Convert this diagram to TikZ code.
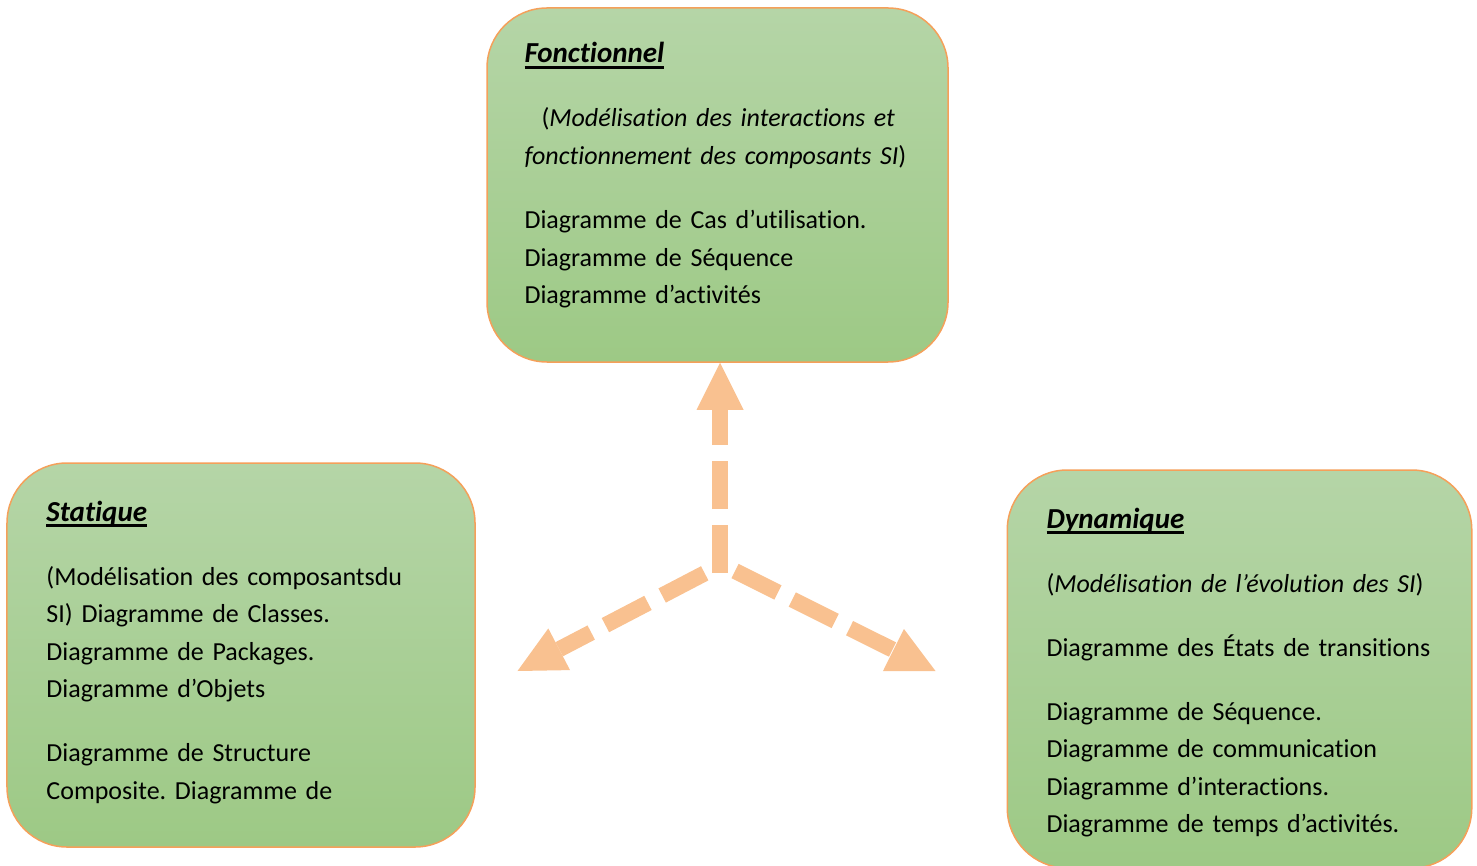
\documentclass[tikz,border=0pt]{standalone}
\usepackage{fontspec}
\setmainfont{Carlito}[Ligatures=NoCommon]
\usepackage{tikz}
\usetikzlibrary{positioning,arrows.meta}
\definecolor{paneltop}{RGB}{181,213,167}
\definecolor{panelbottom}{RGB}{157,201,133}
\definecolor{panelline}{RGB}{245,160,90}
\definecolor{arrowpeach}{RGB}{249,193,144}
\frenchspacing
\newcommand{\paneltitle}[1]{{\fontsize{11.6}{15}\selectfont\bfseries\itshape
    \setbox0\hbox{#1}\rlap{\rule[-2.3pt]{\wd0}{1pt}}\box0}}
\tikzset{
    panel/.style={
        draw=panelline,
        line width=0.6pt,
        rounded corners=24pt,
        top color=paneltop,
        bottom color=panelbottom,
        inner sep=0pt
    },
    paneltext/.style={
        anchor=base west,
        inner sep=0pt,
        align=left,
        text width=180pt,
        font=\fontsize{10.4}{15}\selectfont
    },
    flow/.style={
        draw=arrowpeach,
        line width=6.4pt,
        dash pattern=on 19.2pt off 6.4pt,
        -{Triangle[length=18.8pt 0 0, width=18.8pt 0 0, line width=0pt 0 0]}
    }
}

\begin{document}
\begin{tikzpicture}[x=0.4pt, y=-0.4pt]

\useasboundingbox (0,0) rectangle (1477,865);

% THREE VIEWS
\node[panel, minimum width=184.4pt, minimum height=141.6pt] (fonctionnel) at (717.5,185) {};
\node[panel, minimum width=187.2pt, minimum height=153.6pt] (statique) at (241,655) {};
\node[panel, minimum width=185.8pt, minimum height=159.2pt] (dynamique) at (1239.5,669) {};

% FONCTIONNEL
\node[paneltext] (fonctext) at (524,63)
{\paneltitle{Fonctionnel}\\[10.6pt]
\hspace*{6.8pt}(\textit{Modélisation des interactions et}\\
\textit{fonctionnement des composants SI})\\[10.6pt]
Diagramme de Cas d’utilisation.\\
Diagramme de Séquence\\
Diagramme d’activités};

% STATIQUE
\node[paneltext] (statext) at (46,521)
{\paneltitle{Statique}\\[10.6pt]
(Modélisation des composantsdu\\
SI) Diagramme de Classes.\\
Diagramme de Packages.\\
Diagramme d’Objets\\[10.6pt]
Diagramme de Structure\\
Composite. Diagramme de};

% DYNAMIQUE
\node[paneltext] (dyntext) at (1046,528)
{\paneltitle{Dynamique}\\[10.6pt]
(\textit{Modélisation de l’évolution des SI})\\[10.6pt]
Diagramme des États de transitions\\[10.6pt]
Diagramme de Séquence.\\
Diagramme de communication\\
Diagramme d’interactions.\\
Diagramme de temps d’activités.};

% ARROWS
\coordinate (hub) at (720,573);
\coordinate (hubleft) at (704.7,573.3);
\coordinate (hubright) at (735,571);
\coordinate (lefttip) at (517.5,671);
\coordinate (righttip) at (935.5,671);

\draw[flow] (hub) -- (hub |- fonctionnel.south);
\draw[flow] (hubleft) -- (lefttip);
\draw[flow] (hubright) -- (righttip);

\end{tikzpicture}
\end{document}
